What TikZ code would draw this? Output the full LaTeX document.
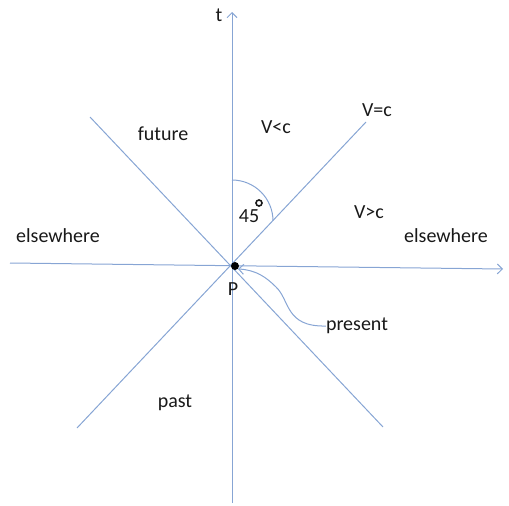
\documentclass[tikz,border=0pt]{standalone}
\usepackage{fontspec}
\setmainfont{Carlito}
\usetikzlibrary{arrows.meta}
\definecolor{axisblue}{RGB}{135,165,212}
\definecolor{txt}{RGB}{25,25,25}
\begin{document}
\begin{tikzpicture}[x=1pt,y=-1pt,
  ln/.style={draw=axisblue, line width=1pt},
  lbl/.style={font=\fontsize{20}{24}\selectfont, inner sep=0pt, text=txt},
  tipped/.style={-{Straight Barb[length=5pt,width=10pt]}}]
\useasboundingbox (0,0) rectangle (509,506);
% axis end points
\coordinate (vb) at (232,503);
\coordinate (vt) at (232,12);
\coordinate (hl) at (10,263);
\coordinate (hr) at (503,269);
\coordinate (d1a) at (77,428);
\coordinate (d1b) at (366,122);
\coordinate (d2a) at (90,117);
\coordinate (d2b) at (383,427);
\coordinate (arcs) at (232,180);
% lines
\draw[ln] (d1a) -- (d1b);
\draw[ln] (d2a) -- (d2b);
\draw[ln, tipped] (vb) -- (vt);
\draw[ln, tipped] (hl) -- (hr);
\draw[ln] (arcs) arc[start angle=90, end angle=0, radius=41pt];
% event P
\node[circle, fill=black, inner sep=0pt, minimum size=8pt] (P) at (235,266) {};
% labels
\node[lbl] (t) at (219,15) {t};
\node[lbl] (future) at (163,134) {future};
\node[lbl] (vlc) at (276,127) {V<c};
\node[lbl] (veqc) at (377,110) {V=c};
\node[lbl] (ang) at (249,216) {45};
\node[circle, draw=txt, line width=1.6pt, inner sep=0pt, minimum width=4.5pt, minimum height=6pt] (deg) at (259,203) {};
\node[lbl] (vgc) at (369,212) {V>c};
\node[lbl] (elsl) at (58,236) {elsewhere};
\node[lbl] (elsr) at (446,236) {elsewhere};
\node[lbl] (plabel) at (233,289) {P};
\node[lbl] (present) at (357,326) {present};
\node[lbl] (past) at (175,403) {past};
% pointer
\draw[ln, tipped] (present.west) .. controls (285,327) and (290,300) .. (276,287)
  .. controls (266,277) and (256,270) .. (P.south east);
\end{tikzpicture}
\end{document}
